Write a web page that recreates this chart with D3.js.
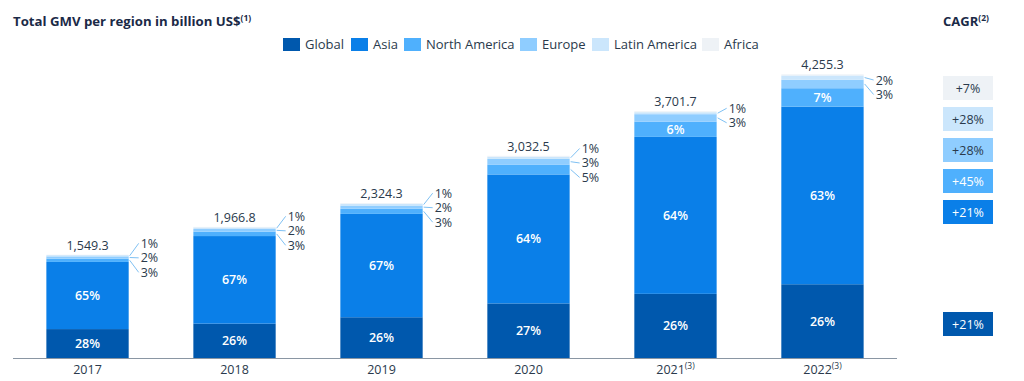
<!DOCTYPE html>
<html>
<head>
<meta charset="utf-8">
<script src="https://cdn.jsdelivr.net/npm/d3@7"></script>
<style>
  html, body { margin: 0; padding: 0; background: #ffffff; }
  svg { display: block; font-family: "Open Sans", "Noto Sans", sans-serif; }
</style>
</head>
<body>
<svg id="chart" width="1024" height="381"></svg>
<script>
// ---------------- DATA ----------------
const years = ["2017", "2018", "2019", "2020", "2021", "2022"];
const yearNotes = ["", "", "", "", "(3)", "(3)"];
const totals = [1549.3, 1966.8, 2324.3, 3032.5, 3701.7, 4255.3];
const regions = ["Global", "Asia", "North America", "Europe", "Latin America", "Africa"];
// share of total GMV per region (%), per year
const shareGlobal = [28.0, 26.2, 26.3, 27.0, 26.0, 26.0];
const shareAsia   = [65.0, 66.8, 66.7, 63.8, 63.6, 62.6];
const shareNA     = [3.2, 3.3, 3.3, 4.9, 6.2, 6.5];
const shareEurope = [2.2, 2.1, 2.1, 2.8, 3.0, 3.0];
const shareLatAm  = [1.2, 1.2, 1.2, 1.1, 0.8, 1.5];
const shareAfrica = [0.4, 0.4, 0.4, 0.4, 0.4, 0.4];
const cagrLabels = ["+7%", "+28%", "+28%", "+45%", "+21%", "+21%"]; // Africa, LatAm, Europe, NA, Asia, Global
const cagrRegions = ["Africa", "Latin America", "Europe", "North America", "Asia", "Global"];

const colors = {
  "Global": "#0058ad",
  "Asia": "#0a7fe8",
  "North America": "#4fb0fd",
  "Europe": "#8fcdff",
  "Latin America": "#cbe6fc",
  "Africa": "#eef2f6"
};
const cagrTextDark = { "Africa": true, "Latin America": true, "Europe": true };

// ---------------- SETUP ----------------
const svg = d3.select("#chart");
const textDark = "#2a3a4c";
const titleColor = "#1b2a47";

const x = d3.scaleBand().domain(years).range([13, 897]).paddingInner(0.44).paddingOuter(0.227);
const y = d3.scaleLinear().domain([0, 4500]).range([358, 58]);

const shares = [shareGlobal, shareAsia, shareNA, shareEurope, shareLatAm, shareAfrica];
const table = years.map((yr, i) => {
  const row = { year: yr, total: totals[i] };
  regions.forEach((r, k) => { row[r] = totals[i] * shares[k][i] / 100; row[r + "_pct"] = shares[k][i]; });
  return row;
});
const stacked = d3.stack().keys(regions)(table);

// ---------------- TITLE ----------------
const title = svg.append("text").attr("x", 13).attr("y", 26)
  .attr("font-size", 13.2).attr("font-weight", 700).attr("fill", titleColor);
title.append("tspan").text("Total GMV per region in billion US$");
title.append("tspan").attr("font-size", 8.5).attr("dy", -5).text("(1)");

const ctitle = svg.append("text").attr("x", 943).attr("y", 26)
  .attr("font-size", 13).attr("font-weight", 700).attr("fill", titleColor);
ctitle.append("tspan").text("CAGR");
ctitle.append("tspan").attr("font-size", 8.5).attr("dy", -5).text("(2)");

// ---------------- LEGEND ----------------
const legendStarts = [283, 351, 404, 520, 592, 702];
const legend = svg.append("g");
regions.forEach((r, k) => {
  const lx = legendStarts[k];
  legend.append("rect").attr("x", lx).attr("y", 38).attr("width", 17).attr("height", 13).attr("fill", colors[r]);
  legend.append("text").attr("x", lx + 22).attr("y", 49).attr("font-size", 13).attr("fill", textDark).text(r);
});

// ---------------- BARS ----------------
const barG = svg.append("g");
stacked.forEach(layer => {
  barG.selectAll(null).data(layer).enter().append("rect")
    .attr("x", d => x(d.data.year))
    .attr("width", x.bandwidth())
    .attr("y", d => y(d[1]))
    .attr("height", d => Math.max(0, y(d[0]) - y(d[1])))
    .attr("fill", colors[layer.key]);
});

// axis line
svg.append("line").attr("x1", 13).attr("x2", 897).attr("y1", 358.5).attr("y2", 358.5)
  .attr("stroke", "#8a96a3").attr("stroke-width", 1.2);

// x labels
years.forEach((yr, i) => {
  const t = svg.append("text").attr("x", x(yr) + x.bandwidth() / 2).attr("y", 374)
    .attr("text-anchor", "middle").attr("font-size", 12.5).attr("fill", textDark);
  t.append("tspan").text(yr);
  if (yearNotes[i]) t.append("tspan").attr("font-size", 8.5).attr("dy", -5).text(yearNotes[i]);
});

// totals
table.forEach(d => {
  svg.append("text").attr("x", x(d.year) + x.bandwidth() / 2).attr("y", y(d.total) - 5)
    .attr("text-anchor", "middle").attr("font-size", 12.5).attr("fill", textDark)
    .text(d3.format(",.1f")(d.total));
});

// inside labels and outside leader labels
const insideMin = 13;
const labelMinY = 80;
const spacing = 14.5;
years.forEach((yr, i) => {
  const cx = x(yr) + x.bandwidth() / 2;
  const right = x(yr) + x.bandwidth();
  const outside = [];
  ["Global", "Asia", "North America", "Europe", "Latin America"].forEach(r => {
    const layer = stacked.find(s => s.key === r)[i];
    const y0 = y(layer[0]), y1 = y(layer[1]);
    const h = y0 - y1;
    const pct = Math.round(table[i][r + "_pct"]) + "%";
    if (h >= insideMin) {
      svg.append("text").attr("x", cx).attr("y", (y0 + y1) / 2).attr("dy", "0.36em")
        .attr("text-anchor", "middle").attr("font-size", 12.5).attr("font-weight", 600)
        .attr("fill", "#ffffff").text(pct);
    } else {
      outside.push({ mid: (y0 + y1) / 2, pct });
    }
  });
  outside.sort((a, b) => a.mid - b.mid);
  const n = outside.length;
  const mean = d3.mean(outside, d => d.mid);
  let start = mean - spacing * (n - 1) / 2;
  if (start < labelMinY) start = labelMinY;
  outside.forEach((d, k) => {
    const ly = start + k * spacing;
    svg.append("line").attr("x1", right + 1).attr("y1", d.mid).attr("x2", right + 10).attr("y2", ly)
      .attr("stroke", "#7fc1f3").attr("stroke-width", 1);
    svg.append("text").attr("x", right + 12).attr("y", ly).attr("dy", "0.36em")
      .attr("font-size", 12.5).attr("fill", textDark).text(d.pct);
  });
});

// ---------------- CAGR BOXES ----------------
const boxX = 943, boxW = 50, boxH = 24;
cagrRegions.forEach((r, k) => {
  const by = (r === "Global") ? 312 : 76 + k * 31;
  svg.append("rect").attr("x", boxX).attr("y", by).attr("width", boxW).attr("height", boxH)
    .attr("fill", colors[r]);
  svg.append("text").attr("x", boxX + boxW / 2).attr("y", by + boxH / 2).attr("dy", "0.36em")
    .attr("text-anchor", "middle").attr("font-size", 12.5)
    .attr("fill", cagrTextDark[r] ? textDark : "#ffffff").text(cagrLabels[k]);
});
</script>
</body>
</html>
